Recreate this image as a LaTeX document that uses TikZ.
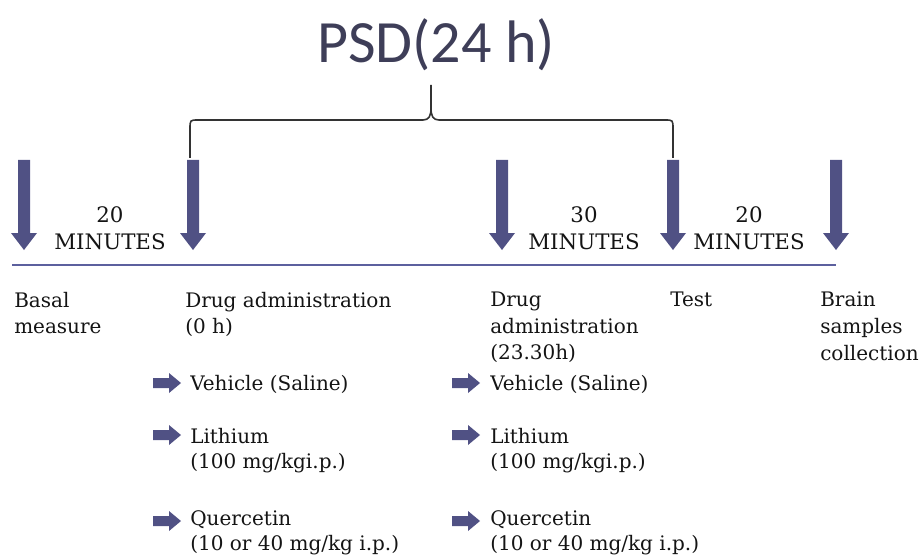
\documentclass[tikz,border=0pt]{standalone}
\usepackage{fontspec}
\setmainfont{DejaVu Serif}
\newfontfamily\titlefont{Carlito}
\usetikzlibrary{positioning}

\definecolor{arrowblue}{RGB}{80,81,132}
\definecolor{lineblue}{RGB}{92,96,158}
\definecolor{titlegray}{RGB}{62,62,88}
\definecolor{inkblack}{RGB}{20,20,20}

\begin{document}
\begin{tikzpicture}[x=0.75pt, y=-0.75pt,
    % Step labels under the time line
    lbl/.style={anchor=north west, inner sep=0pt, align=left, text=inkblack,
        font=\fontsize{15}{19.9}\selectfont},
    % Treatment entries
    item/.style={lbl, font=\fontsize{15}{18.8}\selectfont},
    % Interval labels between the arrows
    mins/.style={anchor=north, inner sep=0pt, align=center, text=inkblack,
        font=\fontsize{16}{20.2}\selectfont},
    mytitle/.style={anchor=base, inner sep=0pt, text=titlegray,
        font=\titlefont\fontsize{45}{54}\selectfont},
    timeline/.style={draw=lineblue, line width=1.5pt},
    bracket/.style={draw=black!80, line width=1.2pt},
    marker/.style={fill=arrowblue}
]
\useasboundingbox (0,0) rectangle (924,556);

% Title and bracket over the deprivation period
\node[mytitle] (psd) at (436,63) {PSD(24 h)};
\draw[bracket] (190,158) -- (190,129) .. controls (190,120) .. (198,120) -- (423,120)
    .. controls (429,120) and (431,116) .. (431,108) -- (431,85) -- (431,108)
    .. controls (431,116) and (433,120) .. (439,120) -- (665,120)
    .. controls (673,120) .. (673,129) -- (673,158);

% Down arrows marking the time points
\foreach \x/\n in {24/tbasal,193/tdrug,502/tdrugb,673/ttest,836/tbrain} {
    \fill[marker] (\x-6,160) -- (\x+6,160) -- (\x+6,233) -- (\x+13,233)
        -- (\x,250) -- (\x-13,233) -- (\x-6,233) -- cycle;
    \coordinate (\n) at (\x,250);
}

% Time line
\coordinate (tlstart) at (12,265);
\coordinate (tlend) at (836,265);
\draw[timeline] (tlstart) -- (tlend);

% Intervals
\node[mins] (min1) at (110,206) {20\\MINUTES};
\node[mins] (min2) at (584,206) {30\\MINUTES};
\node[mins] (min3) at (749,206) {20\\MINUTES};

% Steps
\node[lbl] (basal) at (14,292) {Basal\\measure};
\node[lbl] (adm0) at (185,292) {Drug administration\\(0 h)};
\node[lbl] (adm1) at (490,292) {Drug\\administration\\(23.30h)};
\node[lbl] (test) at (670,292) {Test};
\node[lbl] (brain) at (820,292) {Brain\\samples\\collection};

% Small arrows in front of the treatments
\foreach \x in {153,452} {
    \foreach \y in {383,435,521} {
        \fill[marker] (\x,\y-5) -- (\x+16,\y-5) -- (\x+16,\y-10) -- (\x+28,\y)
            -- (\x+16,\y+10) -- (\x+16,\y+5) -- (\x,\y+5) -- cycle;
    }
}

% Treatments at 0 h
\node[item] (veh0) at (190,375) {Vehicle (Saline)};
\node[item] (li0) at (190,428) {Lithium\\(100 mg/kgi.p.)};
\node[item] (qu0) at (190,510) {Quercetin\\(10 or 40 mg/kg i.p.)};

% Treatments at 23.30 h
\node[item] (veh1) at (490,375) {Vehicle (Saline)};
\node[item] (li1) at (490,428) {Lithium\\(100 mg/kgi.p.)};
\node[item] (qu1) at (490,510) {Quercetin\\(10 or 40 mg/kg i.p.)};

\end{tikzpicture}
\end{document}
